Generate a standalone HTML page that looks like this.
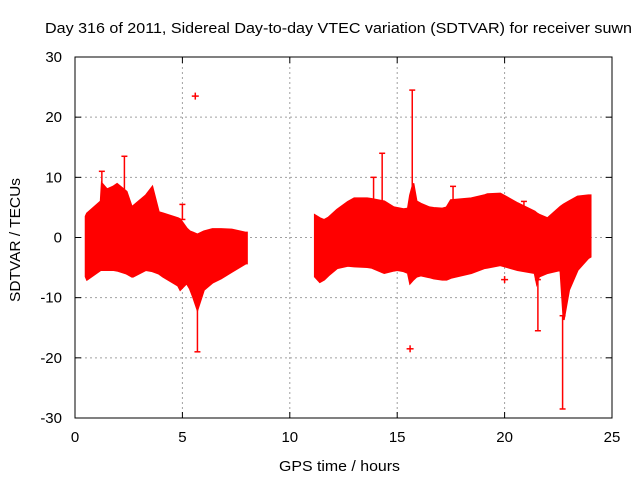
<!DOCTYPE html>
<html><head><meta charset="utf-8"><style>
body{margin:0;background:#fff;}
svg text{font-family:"Liberation Sans",sans-serif;font-size:15px;fill:#000;}
</style></head><body>
<svg id="chart" width="640" height="480">
<text x="45" y="33" textLength="587" lengthAdjust="spacingAndGlyphs">Day 316 of 2011, Sidereal Day-to-day VTEC variation (SDTVAR) for receiver suwn</text>
<text x="279" y="471" textLength="121" lengthAdjust="spacingAndGlyphs">GPS time / hours</text>
<text transform="translate(20,302) rotate(-90)" textLength="124" lengthAdjust="spacingAndGlyphs">SDTVAR / TECUs</text>
<g id="grid"></g><g id="marks"></g><g id="axes"></g>
</svg>
<script>
const xTicks=[0,5,10,15,20,25];
const yTicks=[-30,-20,-10,0,10,20,30];
const seg1Time=[0.5,0.56,1.2,1.25,1.49,1.8,1.96,2.4,2.65,2.7,3.3,3.6,3.9,4.1,4.8,4.9,5.2,5.35,5.5,5.7,6.0,6.4,6.8,7.3,7.95,8.0];
const seg1Upper=[3.5,4,6,9,8,8.5,8.9,7.6,5,5.2,7,8.4,4.2,4,3.2,3,1.5,1,0.8,0.5,1,1.4,1.4,1.3,0.8,0.8];
const seg1Lower=[-6.5,-7,-5.4,-5.4,-5.4,-5.4,-5.5,-6,-6.5,-6.5,-5.4,-5.6,-6,-6.5,-8,-8.7,-7.6,-8.5,-9.9,-12,-8.7,-7.5,-6.8,-5.7,-4.3,-4.3];
const seg2Time=[11.17,11.4,11.6,11.8,12.2,12.7,13.0,13.6,13.8,14.4,14.85,15.0,15.3,15.5,15.6,15.75,15.9,16.1,16.5,16.7,17.1,17.3,17.5,18.45,19.05,19.2,19.8,20.6,21.4,21.5,21.6,22.0,22.6,22.75,23.0,23.4,23.9,24.0];
const seg2Upper=[3.7,3.2,2.9,3.3,4.6,5.9,6.5,6.5,6.4,6,5,4.9,4.7,4.8,7,9,6,5.6,5,4.9,4.8,5,6.2,6.5,7,7.2,7.3,5.7,4.3,4,3.8,3.2,5.1,5.5,6,6.8,7,7];
const seg2Lower=[-6.5,-7.4,-7,-6.3,-5.1,-4.7,-4.8,-4.9,-5,-5.9,-5.5,-5.4,-5.6,-5.9,-7.6,-7,-6.5,-6.3,-6.6,-6.8,-7,-7,-6.7,-5.9,-5.1,-5,-4.6,-5.4,-5.9,-7.6,-6.5,-5.9,-5.4,-13.7,-8.7,-5.4,-3.4,-3.2];
const spikeTime=[1.25,2.3,5.7,15.7,14.3,13.9,17.6,21.55,22.7,5.0,20.9];
const spikeHigh=[11,13.5,-10,24.5,14,10,8.5,-7,-13,5.5,6];
const spikeLow=[5,6,-19,6,5,5,4,-15.5,-28.5,3,4];
const pointTime=[5.6,15.6,20.0];
const pointValue=[23.5,-18.5,-7];
const X=t=>75+t*(612-75)/25;
const Y=v=>237.5-v*(418-57)/60;
const ns="http://www.w3.org/2000/svg";
function mk(tag,parent,attrs){const e=document.createElementNS(ns,tag);for(const k in attrs)e.setAttribute(k,attrs[k]);document.getElementById(parent).appendChild(e);return e;}
xTicks.forEach(t=>{
 if(t>0&&t<25){const g=mk('line','grid',{x1:X(t),x2:X(t),y1:57,y2:418,stroke:'#a0a0a0','stroke-dasharray':'2,3'});
 
 }
 const l=mk('text','axes',{x:X(t),y:442,'text-anchor':'middle'});l.textContent=t;
 
 
 mk('line','axes',{x1:X(t),x2:X(t),y1:418,y2:412,stroke:'#000'});
 mk('line','axes',{x1:X(t),x2:X(t),y1:57,y2:63,stroke:'#000'});
});
yTicks.forEach(v=>{
 if(v>-30&&v<30){const g=mk('line','grid',{x1:75,x2:612,y1:Y(v),y2:Y(v),stroke:'#a0a0a0','stroke-dasharray':'2,3'});
 
 }
 const l=mk('text','axes',{x:62,y:Y(v)+5,'text-anchor':'end'});l.textContent=v;
 
 
 mk('line','axes',{x1:75,x2:81,y1:Y(v),y2:Y(v),stroke:'#000'});
 mk('line','axes',{x1:612,x2:606,y1:Y(v),y2:Y(v),stroke:'#000'});
});
const f=mk('rect','axes',{x:75,y:57,width:537,height:361,fill:'none',stroke:'#000'});


function band(T,U,L,name){
 let p=T.map((t,i)=>X(t)+','+Y(U[i]));
 for(let i=T.length-1;i>=0;i--)p.push(X(T[i])+','+Y(L[i]));
 const e=mk('polygon','marks',{points:p.join(' '),fill:'#ff0000',stroke:'#ff0000','stroke-width':2});
 
 
}
band(seg1Time,seg1Upper,seg1Lower,'error-band-segment-1');
band(seg2Time,seg2Upper,seg2Lower,'error-band-segment-2');
spikeTime.forEach((t,i)=>{
 const e=mk('line','marks',{x1:X(t),x2:X(t),y1:Y(spikeHigh[i]),y2:Y(spikeLow[i]),stroke:'#ff0000',"stroke-width":1.5});
 
 
 [spikeHigh[i],spikeLow[i]].forEach(v=>{
  const c=mk('line','marks',{x1:X(t)-3,x2:X(t)+3,y1:Y(v),y2:Y(v),stroke:'#ff0000','stroke-width':1.5});
  
  
 });
});
pointTime.forEach((t,i)=>{
 const h=mk('line','marks',{x1:X(t)-3.5,x2:X(t)+3.5,y1:Y(pointValue[i]),y2:Y(pointValue[i]),stroke:'#ff0000','stroke-width':1.5});
 
 
 const v=mk('line','marks',{x1:X(t),x2:X(t),y1:Y(pointValue[i])-3.5,y2:Y(pointValue[i])+3.5,stroke:'#ff0000','stroke-width':1.5});
 
 
});
</script>
</body></html>
